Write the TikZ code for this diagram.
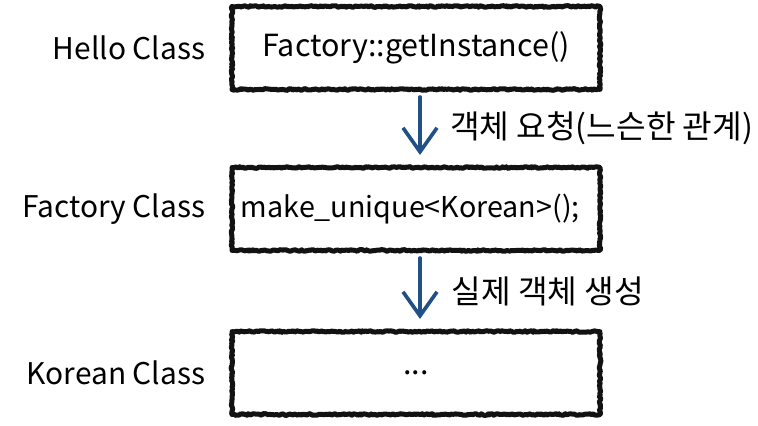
\documentclass[tikz,border=0pt]{standalone}
\usepackage{fontspec}
\setmainfont{Noto Sans CJK KR}
\usetikzlibrary{arrows.meta,positioning,decorations.pathmorphing}
\definecolor{FacInk}{RGB}{18,18,18}
\definecolor{FacBlue}{RGB}{33,80,135}
\tikzset{
  fac/box/.style={
    draw=FacInk,
    line width=1.5mm,
    line join=round,
    decorate,
    decoration={random steps,segment length=1.4pt,amplitude=0.7pt},
    fill=white,
    text=black,
    minimum width=11.04cm,
    minimum height=2.49cm,
    text width=10.5cm,
    inner xsep=0.27cm,
    font=\fontsize{26}{30}\selectfont
  },
  fac/side/.style={font=\fontsize{25.5}{30}\selectfont, text=black, inner sep=0pt},
  fac/note/.style={font=\fontsize{27.5}{32}\selectfont, text=black, inner sep=0pt, anchor=west},
  fac/arrow/.style={
    -{Straight Barb[length=0.72cm,width=1.02cm,line width=1.1mm]},
    line width=1.1mm, draw=FacBlue, line cap=round,
    shorten <=0.15cm, shorten >=0.3cm
  }
}

\begin{document}
\begin{tikzpicture}[x=0.03cm,y=-0.03cm]
  \useasboundingbox (0,0) rectangle (758,426);
  \node[fac/box,align=center] (hello) at (416,48) {Factory::getInstance()};
  \node[fac/box,align=left,font=\fontsize{24.5}{30}\selectfont] (factory) at (416,209) {make\_unique<Korean>();};
  \node[fac/box,align=center] (korean) at (416,373) {...};
  \foreach \n/\t in {hello/Hello Class,factory/Factory Class,korean/Korean Class}{
    \node[fac/side,left=0.72cm of \n] (\n-name) {\t};
  }
  \draw[fac/arrow] ([xshift=0.12cm]hello.south) -- node[fac/note,right=0.85cm] (ask) {객체 요청(느슨한 관계)} ([xshift=0.12cm]factory.north);
  \draw[fac/arrow] ([xshift=0.12cm]factory.south) -- node[fac/note,right=0.9cm] (make) {실제 객체 생성} ([xshift=0.12cm]korean.north);
\end{tikzpicture}
\end{document}
